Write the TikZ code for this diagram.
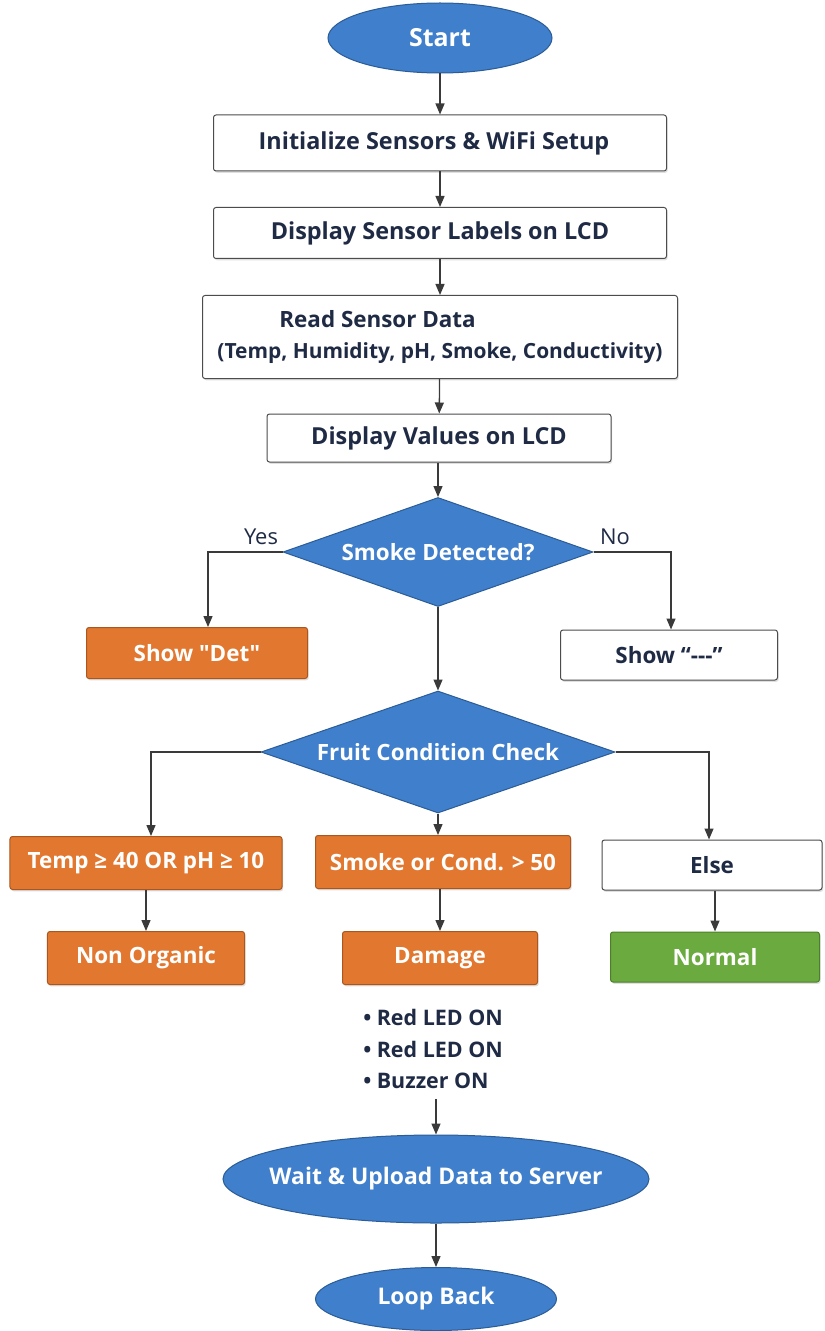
\documentclass[tikz,border=0pt]{standalone}
\usepackage{fontspec}
\setmainfont{Open Sans}[Ligatures=TeXOff]
\usetikzlibrary{shapes.geometric,arrows.meta,shadows}
\definecolor{blueF}{HTML}{3F7FCB}
\definecolor{blueD}{HTML}{2B5C96}
\definecolor{orangeF}{HTML}{E2782F}
\definecolor{orangeD}{HTML}{A9561F}
\definecolor{greenF}{HTML}{6BAA3E}
\definecolor{greenD}{HTML}{4C7F2A}
\definecolor{navy}{HTML}{1F2A44}
\definecolor{lineC}{HTML}{3A3A3A}
\newcommand{\fs}[1]{\fontsize{#1}{#1}\selectfont}
\tikzset{
  shad/.style={drop shadow={shadow xshift=1.2bp,shadow yshift=-1.8bp,opacity=0.25}},
  term/.style={ellipse, draw=blueD, fill=blueF, line width=1bp, inner sep=0pt},
  termtext/.style={text=white, font={\bfseries\fs{23}}, inner sep=0pt},
  dec/.style={diamond, draw=blueD, fill=blueF, line width=1bp, inner sep=0pt},
  dectext/.style={text=white, font={\bfseries\fs{22.5}}, inner sep=0pt},
  wbox/.style={rectangle, rounded corners=2.5bp, draw=black!70, fill=white, line width=1bp, text=navy, font={\bfseries\fs{23.5}}, inner sep=0pt, shad},
  obox/.style={rectangle, rounded corners=2.5bp, draw=orangeD, fill=orangeF, line width=1bp, text=white, font={\bfseries\fs{22.5}}, inner sep=0pt, shad},
  gbox/.style={obox, draw=greenD, fill=greenF},
  lab/.style={text=navy, font={\fs{22}}, inner sep=0pt},
}
\tikzset{arr/.style={draw=lineC, line width=1.3bp, -{Triangle[width=9bp,length=11bp]}}}
\begin{document}
\begin{tikzpicture}[x=1bp,y=-1bp]
\fill[white] (0,0) rectangle (824,1331);
\useasboundingbox (0,0) rectangle (824,1331);

\node[term, minimum width=224bp, minimum height=70bp, label={[termtext, font={\bfseries\fs{25}}]center:Start}] (start) at (440,38) {};
\node[wbox, minimum width=453bp, minimum height=56bp] (init) at (440,143) {Initialize Sensors \& WiFi Setup\hspace*{12bp}};
\node[wbox, minimum width=453bp, minimum height=51bp] (disp) at (440,233) {Display Sensor Labels on LCD};
\node[wbox, minimum width=475bp, minimum height=83bp, align=left, font={\bfseries\fs{22.5}}] (read) at (440,337)
  {\hspace*{62bp}Read Sensor Data\\[8bp]{\fs{21}(Temp, Humidity, pH, Smoke, Conductivity)}};
\node[wbox, minimum width=344bp, minimum height=48bp] (vals) at (439,438) {Display Values on LCD};

\node[dec, minimum width=310bp, minimum height=109bp, label={[dectext]center:Smoke Detected?}] (d1) at (438,552) {};
\node[obox, minimum width=221bp, minimum height=51bp] (det) at (197,653) {Show "Det"};
\node[wbox, minimum width=217bp, minimum height=50bp, font={\bfseries\fs{22.5}}] (dash) at (669,655) {Show “---”};
\node[lab] (yes) at (261,537) {Yes};
\node[lab] (no) at (615,537) {No};

\node[dec, minimum width=354bp, minimum height=122bp, label={[dectext]center:Fruit Condition Check}] (d2) at (438,752) {};
\node[obox, minimum width=272bp, minimum height=53bp] (c1) at (146,863) {Temp ≥ 40 OR pH ≥ 10};
\node[obox, minimum width=255bp, minimum height=53bp] (c2) at (443,862) {Smoke or Cond. > 50};
\node[wbox, minimum width=220bp, minimum height=50bp, font={\bfseries\fs{22.5}}] (c3) at (712,865) {Else};

\node[obox, minimum width=197bp, minimum height=53bp] (nonorg) at (146,958) {Non Organic};
\node[obox, minimum width=195bp, minimum height=53bp] (damage) at (440,958) {Damage};
\node[gbox, minimum width=209bp, minimum height=50bp] (normal) at (715,957) {Normal};

\node[text=navy, font={\bfseries\fs{21.5}}, align=left, inner sep=0pt] (bul) at (433,1049)
  {• Red LED ON\\[10bp]• Red LED ON\\[10bp]• Buzzer ON};

\node[term, minimum width=426bp, minimum height=88bp, label={[termtext]center:Wait \& Upload Data to Server}] (wait) at (436,1179) {};
\node[term, minimum width=241bp, minimum height=63bp, label={[termtext]center:Loop Back}] (loop) at (436,1299) {};

\draw[arr] (start) -- (init);
\draw[arr] (init) -- (disp);
\draw[arr] (disp) -- (read);
\draw[arr] (read) -- (vals);
\draw[arr] (vals.south -| d1.north) -- (d1.north);
\draw[arr] (d1.west) -| ([xshift=11bp]det.north);
\draw[arr] (d1.east) -| ([xshift=2bp]dash.north);
\draw[arr] (d1.south) -- (d2.north);
\draw[arr] (d2.west) -| ([xshift=5bp]c1.north);
\draw[arr] (d2.south) -- (d2.south |- c2.north);
\draw[arr] (d2.east) -| ([xshift=-3bp]c3.north);
\draw[arr] (c1) -- (nonorg);
\draw[arr] (c2.south -| damage.north) -- (damage.north);
\draw[arr] (c3.south -| normal.north) -- (normal.north);
\draw[arr] ([yshift=-10bp]bul.south -| wait.north) -- (wait.north);
\draw[arr] (wait) -- (loop);
\end{tikzpicture}
\end{document}
